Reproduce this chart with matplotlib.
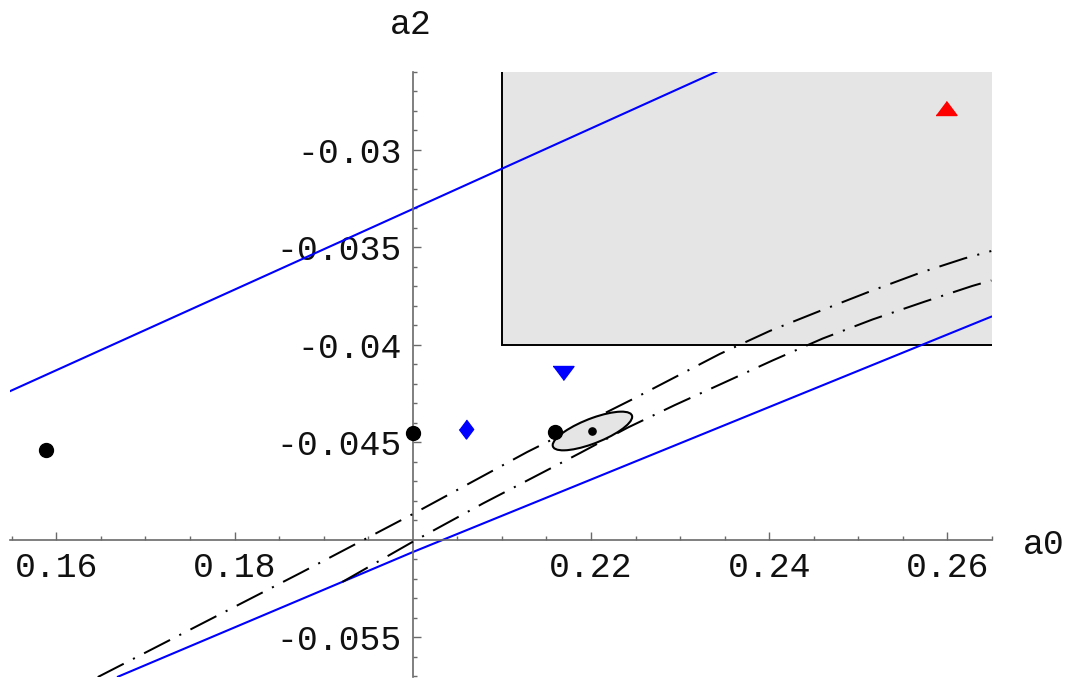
import numpy as np
import matplotlib
matplotlib.use("Agg")
import matplotlib.pyplot as plt
from matplotlib.patches import Ellipse
from matplotlib.transforms import Affine2D

plt.rcParams['font.family'] = ['Liberation Mono', 'DejaVu Sans Mono']

# ---------------- data ----------------
# tick labels
x_major = [0.16, 0.18, 0.22, 0.24, 0.26]
x_labels = ["0.16", "0.18", "0.22", "0.24", "0.26"]
y_major = [-0.055, -0.045, -0.04, -0.035, -0.03]
y_labels = ["-0.055", "-0.045", "-0.04", "-0.035", "-0.03"]

# shaded region (a0 >= 0.21, a2 >= -0.04)
rect_a0 = [0.21, 0.30, 0.30, 0.21]
rect_a2 = [-0.04, -0.04, 0.0, 0.0]

# blue straight lines
blue_upper_a0 = [0.150, 0.240]
blue_upper_a2 = [-0.04336, -0.02476]
blue_lower_a0 = [0.16692, 0.2000, 0.26490]
blue_lower_a2 = [-0.05701, -0.05062, -0.03855]

# dash-dot curves
curve1_a0 = [0.16465, 0.18740, 0.20000, 0.21283, 0.22471, 0.23445, 0.24006,
             0.24566, 0.25126, 0.25686, 0.26190, 0.26492]
curve1_a2 = [-0.05703, -0.05169, -0.04867, -0.04549, -0.04277, -0.04046, -0.03928,
             -0.03826, -0.03726, -0.03631, -0.03556, -0.03518]
curve2_a0 = [0.19210, 0.20000, 0.20790, 0.21339, 0.21877, 0.22415, 0.22941,
             0.23479, 0.24039, 0.24599, 0.25160, 0.25742, 0.26280, 0.26493]
curve2_a2 = [-0.05215, -0.05009, -0.04812, -0.04682, -0.04554, -0.04423, -0.04308,
             -0.04196, -0.04079, -0.03967, -0.03869, -0.03778, -0.03697, -0.03669]

# points
dots_a0 = [0.15886, 0.2000, 0.21597]
dots_a2 = [-0.04540, -0.04450, -0.04448]
diamond_a0 = [0.20596]
diamond_a2 = [-0.04432]
down_tri_a0 = [0.21690]
down_tri_a2 = [-0.04142]
up_tri_a0 = [0.25985]
up_tri_a2 = [-0.02786]

# confidence ellipse: centre, std devs and correlation
ell_center = (0.22016, -0.04441)
ell_sd_a0 = 0.004459
ell_sd_a2 = 0.000992
ell_rho = 0.734

# ---------------- figure ----------------
W, H = 1070, 682
fig = plt.figure(figsize=(W / 100, H / 100), dpi=100)
ax = fig.add_axes([10 / W, 5 / H, 982 / W, 605 / H])
ax.set_xlim(0.15480, 0.26493)
ax.set_ylim(-0.057026, -0.026)
ax.set_facecolor('none')

# shaded region
ax.fill(rect_a0, rect_a2, facecolor='#e5e5e5', edgecolor='black', lw=1.4, zorder=1)

# blue lines
ax.plot(blue_upper_a0, blue_upper_a2, color='blue', lw=1.5, zorder=2)
ax.plot(blue_lower_a0, blue_lower_a2, color='blue', lw=1.5, zorder=2)

# dash-dot curves
lw_dd = 1.45
dd = (0, tuple(v / lw_dd for v in (21, 7.5, 1.5, 7.5)))
ax.plot(curve1_a0, curve1_a2, color='black', lw=lw_dd, ls=dd, zorder=3)
ax.plot(curve2_a0, curve2_a2, color='black', lw=lw_dd, ls=dd, zorder=3)

# ellipse
tr = Affine2D(np.array([[ell_sd_a0, 0.0, ell_center[0]],
                        [ell_sd_a2 * ell_rho, ell_sd_a2 * np.sqrt(1 - ell_rho ** 2), ell_center[1]],
                        [0.0, 0.0, 1.0]]))
ell = Ellipse((0, 0), 2, 2, facecolor='#e5e5e5', edgecolor='black', lw=1.5,
              transform=tr + ax.transData, zorder=4)
ax.add_patch(ell)
ax.plot([ell_center[0]], [ell_center[1]], 'o', color='black', ms=5.2, zorder=6)

# markers
ax.plot(dots_a0, dots_a2, 'o', color='black', ms=10, zorder=6)
diamond = [(0, 1), (0.75, 0), (0, -1), (-0.75, 0)]
ax.plot(diamond_a0, diamond_a2, ls='none', marker=diamond, color='blue', ms=13.7, zorder=6)
tri_down = [(-1, 2 / 3), (1, 2 / 3), (0, -2 / 3)]
tri_up = [(-1, -2 / 3), (1, -2 / 3), (0, 2 / 3)]
ax.plot(down_tri_a0, down_tri_a2, ls='none', marker=tri_down, color='blue', ms=15.1, zorder=6)
ax.plot(up_tri_a0, up_tri_a2, ls='none', marker=tri_up, color='red', ms=15.1, zorder=6)

# axes crossing at (0.2, -0.05)
axis_col = '#6a6a6a'
for s in ('top', 'right'):
    ax.spines[s].set_visible(False)
ax.spines['left'].set_position(('data', 0.2))
ax.spines['bottom'].set_position(('data', -0.05))
for s in ('left', 'bottom'):
    ax.spines[s].set_color(axis_col)
    ax.spines[s].set_linewidth(1.2)
    ax.spines[s].set_zorder(2.5)

ax.set_xticks(x_major)
ax.set_xticklabels(x_labels)
ax.set_yticks(y_major)
ax.set_yticklabels(y_labels)
x_minor = [round(0.155 + 0.005 * i, 3) for i in range(23)]
x_minor = [v for v in x_minor if all(abs(v - m) > 1e-9 for m in x_major) and abs(v - 0.2) > 1e-9]
y_minor = [round(-0.057 + 0.001 * i, 3) for i in range(32)]
y_minor = [v for v in y_minor if all(abs(v - m) > 1e-9 for m in y_major) and abs(v + 0.05) > 1e-9]
ax.set_xticks(x_minor, minor=True)
ax.set_yticks(y_minor, minor=True)
ax.tick_params(which='both', direction='in', color=axis_col, width=1.0, labelsize=25,
               labelcolor='#111111')
ax.tick_params(which='major', length=5.5)
ax.tick_params(which='minor', length=3)
ax.tick_params(axis='x', pad=8)
ax.tick_params(axis='y', pad=8)

# axis labels
fig.text(1044 / W, 1 - 544 / H, "a0", ha='center', va='center', fontsize=25, color='#111111')
fig.text(411 / W, 1 - 24 / H, "a2", ha='center', va='center', fontsize=25, color='#111111')

fig.savefig("out.png", dpi=100)
